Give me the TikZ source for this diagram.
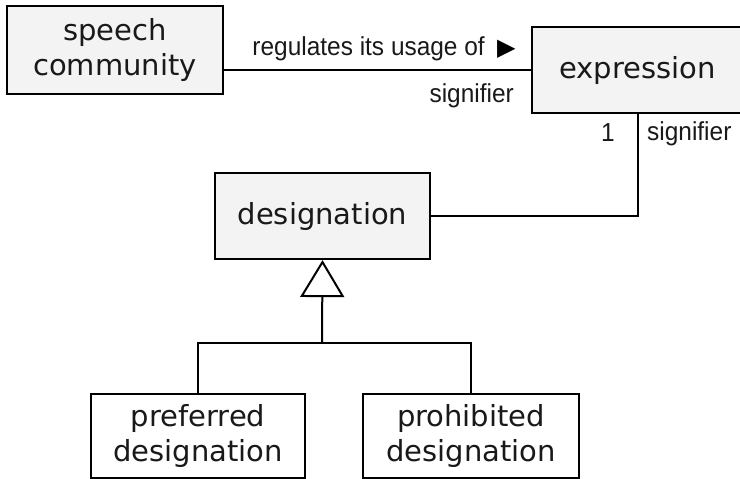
\documentclass[tikz,border=0pt]{standalone}
\usepackage{fontspec}
\setmainfont{DejaVu Sans}
\newfontfamily\lblfont[FakeStretch=0.94]{Liberation Sans}
\newfontfamily\symfont{DejaVu Sans}
\usetikzlibrary{arrows.meta}
\definecolor{boxgray}{HTML}{F3F3F3}
\tikzset{
  cls/.style={draw=black, line width=2.2pt, inner sep=0pt, align=center,
    font=\fontsize{29}{35}\selectfont, text=black!90},
  greybox/.style={cls, fill=boxgray},
  whitebox/.style={cls, fill=white},
  conn/.style={draw=black, line width=2pt},
  lbl/.style={inner sep=0pt, font=\lblfont\fontsize{26}{30}\selectfont, text=black!90},
  gen/.style={conn, -{Triangle[open, length=37pt, width=44pt, line width=2pt]}}
}
\begin{document}
\begin{tikzpicture}[x=1pt, y=-1pt]
\useasboundingbox (0,0) rectangle (740,479);
\node[greybox, minimum width=216pt, minimum height=88pt] (sc) at (115,50) {speech\\community};
\node[greybox, minimum width=211pt, minimum height=86pt] (expr) at (637.5,70) {expression};
\node[greybox, minimum width=215pt, minimum height=86pt] (desig) at (322.5,216) {designation};
\node[whitebox, minimum width=214pt, minimum height=84pt] (pref) at (198,436) {preferred\\designation};
\node[whitebox, minimum width=216pt, minimum height=84pt] (proh) at (471,436) {prohibited\\designation};

% association speech community -- expression
\draw[conn] (expr.west) -- (expr.west -| sc.east);
\node[lbl, anchor=base east] (reg) at (485,55) {regulates its usage of};
\node[inner sep=0pt, anchor=base west, font=\symfont\fontsize{24}{26}\selectfont] (tri) at (497,55) {▶};
\node[lbl, anchor=base east] (sig1) at (514,102) {signifier};

% association designation -- expression
\draw[conn] (desig.east) -| (expr.south);
\node[lbl, anchor=base] (one) at (608,141) {1};
\node[lbl, anchor=base west] (sig2) at (647,140) {signifier};

% generalization
\coordinate (j) at (322,343);
\draw[gen] (j) -- (desig.south);
\draw[conn] (pref.north) |- (j) -| (proh.north);
\end{tikzpicture}
\end{document}
